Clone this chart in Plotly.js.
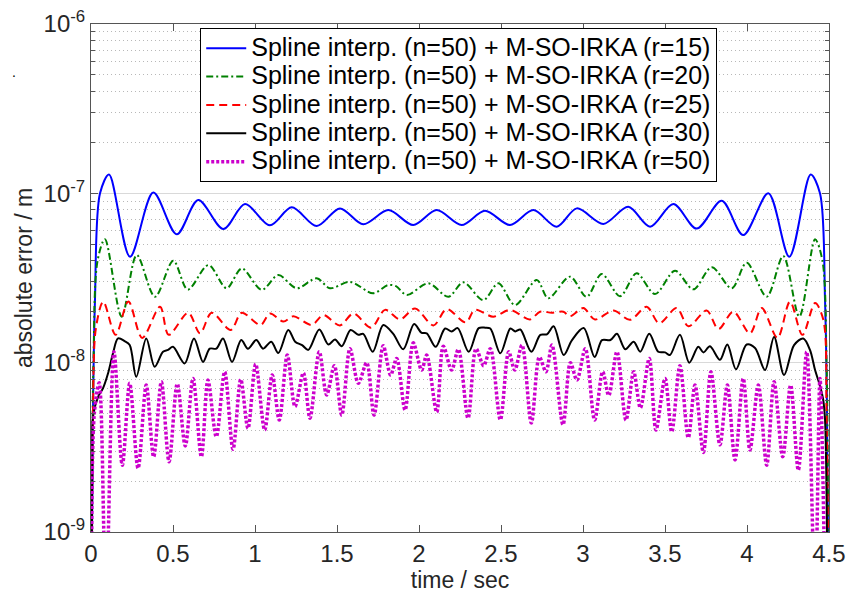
<!DOCTYPE html>
<html>
<head>
<meta charset="utf-8">
<script src="https://cdn.plot.ly/plotly-3.0.1.min.js"></script>
<style>html,body{margin:0;padding:0;background:#fff;}#chart{width:848px;height:594px;}</style>
</head>
<body>
<div id="chart"></div>
<script>
// ---- data (time in s, absolute error in m) ----
const seriesNames = [
  "Spline interp. (n=50) + M-SO-IRKA (r=15)",
  "Spline interp. (n=50) + M-SO-IRKA (r=20)",
  "Spline interp. (n=50) + M-SO-IRKA (r=25)",
  "Spline interp. (n=50) + M-SO-IRKA (r=30)",
  "Spline interp. (n=50) + M-SO-IRKA (r=50)"
];

const t15 = [0.004,0.012,0.024,0.055,0.110,0.238,0.380,0.523,0.654,0.807,0.939,1.091,1.224,1.376,1.518,1.660,1.813,1.965,2.108,2.260,2.402,2.555,2.697,2.840,2.962,3.124,3.276,3.409,3.551,3.693,3.846,3.977,4.130,4.258,4.388,4.445,4.476,4.488,4.496];
const e15 = [5e-10,5e-9,2.3e-8,1.0e-7,1.29e-7,4.22e-8,1.01e-7,5.73e-8,9.13e-8,6.15e-8,8.65e-8,6.47e-8,8.27e-8,6.41e-8,8.15e-8,6.56e-8,7.96e-8,6.50e-8,7.96e-8,6.50e-8,7.89e-8,6.5e-8,7.96e-8,6.35e-8,8.15e-8,6.6e-8,8.32e-8,6.35e-8,8.65e-8,6.19e-8,9.04e-8,5.67e-8,1.0e-7,4.22e-8,1.29e-7,1.0e-7,2.3e-8,5e-9,5e-10];

const t20 = [0.004,0.015,0.040,0.085,0.187,0.279,0.390,0.502,0.590,0.716,0.827,0.919,1.041,1.142,1.254,1.376,1.457,1.579,1.721,1.810,1.860,1.925,2.057,2.179,2.270,2.392,2.484,2.585,2.718,2.788,2.921,3.022,3.114,3.226,3.327,3.439,3.561,3.673,3.785,3.907,3.998,4.120,4.221,4.319,4.415,4.460,4.485,4.496];
const e20 = [5e-10,1.0e-8,4.0e-8,5.35e-8,1.87e-8,4.32e-8,2.45e-8,4.0e-8,2.7e-8,3.77e-8,2.75e-8,3.6e-8,2.69e-8,3.29e-8,2.75e-8,3.15e-8,2.75e-8,3.0e-8,2.57e-8,2.87e-8,2.83e-8,2.51e-8,2.94e-8,2.45e-8,2.98e-8,2.34e-8,2.94e-8,2.19e-8,3.08e-8,2.4e-8,3.22e-8,2.45e-8,3.34e-8,2.47e-8,3.37e-8,2.54e-8,3.49e-8,2.71e-8,3.66e-8,2.75e-8,3.89e-8,2.45e-8,4.26e-8,1.87e-8,5.35e-8,4.0e-8,1.0e-8,5e-10];

const t25 = [0.004,0.012,0.030,0.075,0.150,0.228,0.312,0.421,0.474,0.593,0.665,0.736,0.852,0.919,1.034,1.091,1.173,1.234,1.346,1.417,1.518,1.600,1.708,1.793,1.884,1.976,2.088,2.169,2.285,2.341,2.453,2.555,2.677,2.738,2.810,2.880,2.920,3.002,3.073,3.185,3.287,3.388,3.465,3.571,3.643,3.754,3.826,3.917,4.018,4.090,4.186,4.262,4.338,4.415,4.465,4.485,4.496];
const e25 = [5e-10,5e-9,1.6e-8,2.29e-8,1.46e-8,2.3e-8,1.4e-8,2.14e-8,1.46e-8,1.97e-8,1.49e-8,1.97e-8,1.56e-8,1.97e-8,1.67e-8,1.95e-8,1.75e-8,1.88e-8,1.67e-8,1.91e-8,1.66e-8,1.95e-8,1.61e-8,2.05e-8,1.8e-8,2.09e-8,1.66e-8,2.07e-8,1.73e-8,2.05e-8,1.87e-8,2.05e-8,1.8e-8,2.0e-8,1.97e-8,2.0e-8,1.88e-8,2.1e-8,1.8e-8,2.03e-8,1.79e-8,2.14e-8,1.71e-8,2.1e-8,1.64e-8,2.03e-8,1.58e-8,2.0e-8,1.49e-8,2.1e-8,1.4e-8,2.29e-8,1.46e-8,2.25e-8,1.8e-8,5e-9,5e-10];

const t30 = [0.003,0.008,0.012,0.043,0.073,0.104,0.134,0.165,0.205,0.236,0.276,0.337,0.388,0.439,0.470,0.500,0.571,0.628,0.683,0.724,0.764,0.805,0.860,0.916,0.957,1.008,1.049,1.099,1.142,1.203,1.245,1.287,1.325,1.392,1.447,1.488,1.529,1.583,1.630,1.660,1.718,1.782,1.843,1.904,1.970,2.016,2.047,2.102,2.159,2.199,2.236,2.303,2.364,2.404,2.435,2.496,2.557,2.587,2.618,2.685,2.740,2.780,2.821,2.882,2.933,3.004,3.071,3.116,3.167,3.207,3.258,3.309,3.349,3.404,3.459,3.500,3.530,3.591,3.648,3.703,3.734,3.774,3.835,3.880,3.933,3.998,4.049,4.110,4.165,4.226,4.287,4.343,4.384,4.415,4.445,4.465,4.476,4.490];
const e30 = [5e-10,2.5e-9,4.79e-9,6.29e-9,7.05e-9,8.65e-9,1.135e-8,1.39e-8,1.34e-8,1.27e-8,8.25e-9,1.39e-8,9.46e-9,1.16e-8,1.19e-8,1.24e-8,9.9e-9,1.39e-8,1.01e-8,1.21e-8,1.21e-8,1.39e-8,1.01e-8,1.36e-8,1.21e-8,1.36e-8,1.21e-8,1.33e-8,1.14e-8,1.56e-8,1.33e-8,1.27e-8,1.19e-8,1.57e-8,1.28e-8,1.37e-8,1.25e-8,1.56e-8,1.46e-8,1.48e-8,1.16e-8,1.67e-8,1.48e-8,1.2e-8,1.69e-8,1.5e-8,1.49e-8,1.24e-8,1.59e-8,1.53e-8,1.6e-8,1.16e-8,1.6e-8,1.61e-8,1.59e-8,1.135e-8,1.59e-8,1.53e-8,1.57e-8,1.16e-8,1.46e-8,1.47e-8,1.64e-8,1.11e-8,1.36e-8,1.6e-8,1.08e-8,1.36e-8,1.36e-8,1.48e-8,1.2e-8,1.33e-8,1.16e-8,1.48e-8,1.16e-8,1.15e-8,1.11e-8,1.46e-8,1.0e-8,1.24e-8,1.15e-8,1.25e-8,1.04e-8,1.28e-8,9.13e-9,1.28e-8,1.22e-8,9.04e-9,1.42e-8,8.45e-9,1.27e-8,1.39e-8,1.19e-8,9.04e-9,7.3e-9,6.0e-9,4.58e-9,5e-10];

const t50 = [0.004,0.02,0.05,0.091,0.140,0.191,0.236,0.287,0.337,0.382,0.429,0.476,0.526,0.575,0.622,0.673,0.713,0.764,0.815,0.866,0.913,0.957,1.004,1.059,1.105,1.148,1.197,1.244,1.295,1.335,1.392,1.437,1.484,1.529,1.579,1.630,1.681,1.726,1.782,1.827,1.864,1.915,1.965,2.016,2.047,2.108,2.148,2.199,2.240,2.299,2.348,2.394,2.435,2.496,2.547,2.584,2.628,2.685,2.734,2.774,2.811,2.878,2.923,2.963,3.014,3.071,3.120,3.157,3.207,3.262,3.309,3.350,3.404,3.445,3.500,3.541,3.591,3.642,3.683,3.734,3.780,3.835,3.880,3.927,3.977,4.018,4.069,4.120,4.165,4.218,4.266,4.313,4.364,4.415,4.445,4.476];
const e50 = [4e-10,5e-9,7.6e-9,4e-10,1.16e-8,2.48e-9,7.55e-9,2.38e-9,7.37e-9,2.78e-9,7.71e-9,2.6e-9,7.5e-9,3.22e-9,8.07e-9,2.78e-9,7.89e-9,3.65e-9,8.84e-9,3.08e-9,7.97e-9,4.09e-9,9.8e-9,4.0e-9,8.45e-9,4.58e-9,1.11e-8,5.5e-9,8.7e-9,4.7e-9,1.16e-8,6.44e-9,9.6e-9,4.9e-9,1.21e-8,7.55e-9,1.0e-8,4.9e-9,1.26e-8,8.45e-9,1.06e-8,5.25e-9,1.31e-8,9.04e-9,1.11e-8,5.1e-9,1.25e-8,9.04e-9,1.2e-8,4.7e-9,1.21e-8,9.6e-9,1.21e-8,4.6e-9,1.16e-8,9.04e-9,1.27e-8,4.4e-9,1.08e-8,8.84e-9,1.27e-8,4.3e-9,1.0e-8,7.89e-9,1.21e-8,4.58e-9,8.84e-9,6.4e-9,1.16e-8,4.58e-9,8.84e-9,5.4e-9,1.06e-8,4.0e-9,8.07e-9,3.9e-9,9.6e-9,3.6e-9,7.37e-9,2.95e-9,8.84e-9,3.27e-9,7.37e-9,2.66e-9,8.07e-9,3.05e-9,7.37e-9,2.48e-9,7.71e-9,2.78e-9,7.37e-9,2.32e-9,1.16e-8,4e-10,8.07e-9,4e-10];

const xTickVals = [0,0.5,1,1.5,2,2.5,3,3.5,4,4.5];
const xTickText = ["0","0.5","1","1.5","2","2.5","3","3.5","4","4.5"];
const yTickVals = [1e-9,1e-8,1e-7,1e-6];
const yTickText = ["10<sup>-9</sup>","10<sup>-8</sup>","10<sup>-7</sup>","10<sup>-6</sup>"];
const yMinorVals = [];
[1e-9,1e-8,1e-7].forEach(d => { for (let k = 2; k <= 9; k++) yMinorVals.push(k * d); });

// ---- styles ----
const FONT = "'Liberation Sans', Arial, Helvetica, sans-serif";
const styles = [
  {color:"#0000ff", width:2,   dash:"solid"},
  {color:"#008000", width:2,   dash:"7px,3px,2px,3px"},
  {color:"#ff0000", width:2,   dash:"8px,5px"},
  {color:"#000000", width:2,   dash:"solid"},
  {color:"#cc00cc", width:3.5, dash:"3px,2px"}
];
const xs = [t15,t20,t25,t30,t50];
const ys = [e15,e20,e25,e30,e50];

const traces = xs.map((x,i) => ({
  type:"scatter", mode:"lines", x:x, y:ys[i],
  name:'<span style="font-size:25px">' + seriesNames[i] + '</span>',
  line:{color:styles[i].color, width:styles[i].width, dash:styles[i].dash, shape:"spline", smoothing:0.9}
}));

const layout = {
  width:848, height:594,
  margin:{l:91, r:19, t:24, b:62},
  paper_bgcolor:"#ffffff", plot_bgcolor:"#ffffff",
  font:{family:FONT, color:"#262626", size:24},
  showlegend:true,
  legend:{
    x:0.148, y:0.992, xanchor:"left", yanchor:"top",
    bgcolor:"#ffffff", bordercolor:"#000000", borderwidth:1,
    font:{family:FONT, size:19.5, color:"#000000"},
    itemwidth:40, tracegroupgap:0
  },
  xaxis:{
    range:[0,4.5], tickmode:"array", tickvals:xTickVals, ticktext:xTickText,
    ticks:"inside", ticklen:7, tickcolor:"#555", mirror:"ticks",
    showline:true, linecolor:"#555", linewidth:1,
    showgrid:false, zeroline:false,
    tickfont:{size:24, color:"#262626"},
    title:{text:"time / sec", font:{size:23, color:"#262626"}, standoff:5}
  },
  yaxis:{
    type:"log", range:[-9,-6], tickmode:"array", tickvals:yTickVals, ticktext:yTickText,
    ticks:"inside", ticklen:7, tickcolor:"#555", mirror:"ticks",
    showline:true, linecolor:"#555", linewidth:1,
    showgrid:true, gridcolor:"#d9d9d9", gridwidth:1, zeroline:false,
    tickfont:{size:24, color:"#262626"},
    title:{text:"absolute error / m", font:{size:23, color:"#262626"}, standoff:4},
    minor:{tickmode:"array", tickvals:yMinorVals, ticks:"inside", ticklen:4, tickcolor:"#555",
           showgrid:true, gridcolor:"#b8b8b8", griddash:"1px,3px", gridwidth:1}
  },
  annotations:[{xref:"paper", yref:"paper", x:-0.11, y:0.886, yanchor:"bottom", text:".", showarrow:false,
                font:{size:14, color:"#000000"}}]
};

Plotly.newPlot("chart", traces, layout, {staticPlot:true, displayModeBar:false});
</script>
</body>
</html>
